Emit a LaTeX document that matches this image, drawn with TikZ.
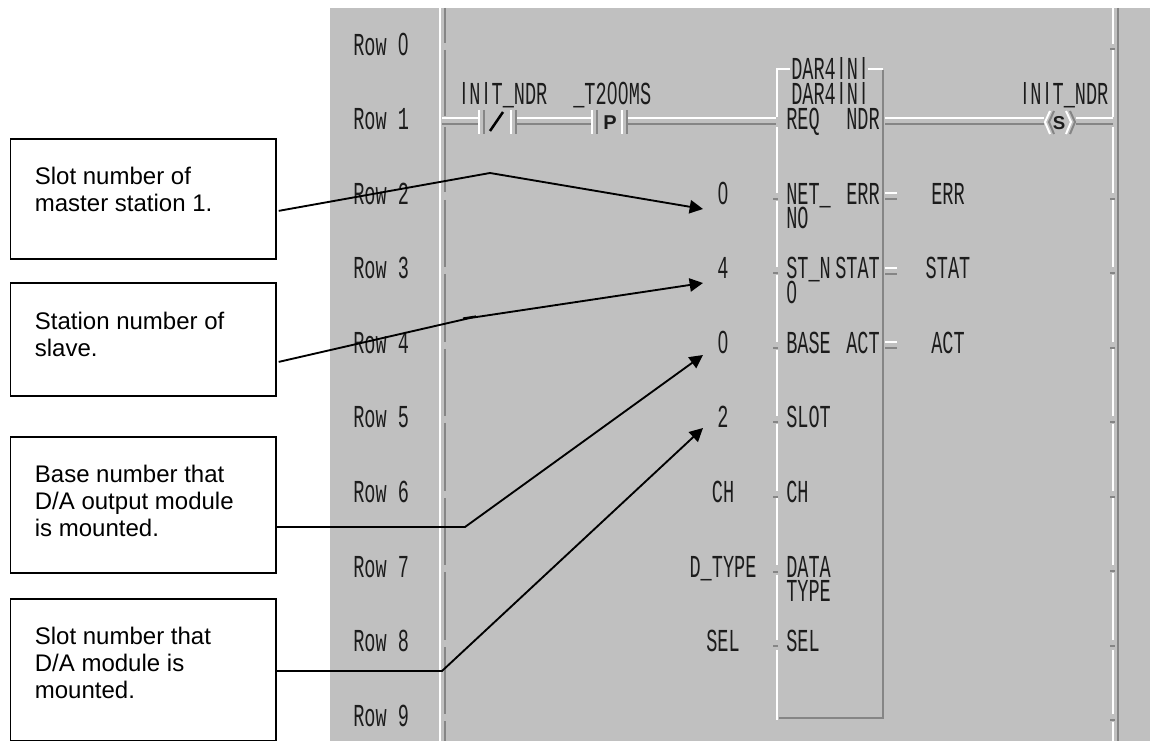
\documentclass[tikz,border=0pt]{standalone}
\usepackage{graphicx}
\usepackage{fontspec}
\setmainfont{Liberation Sans}
\newfontfamily\ldmono{Liberation Mono}
\newfontfamily\ldsans{Liberation Sans}
\usetikzlibrary{arrows.meta,calc}
\definecolor{panelgray}{HTML}{C0C0C0}
\definecolor{edgegray}{HTML}{858585}
\definecolor{inkdark}{HTML}{1C1C1C}
\newcommand\ldt[1]{\scalebox{.58}[1]{\fontsize{24}{24}\selectfont\ldmono\color{inkdark}#1}}
\newcommand\ldz{\makebox[.6em][c]{\ldsans 0}}
\newcommand\ldi{\makebox[.6em][c]{\ldsans I}}
\newcommand\boxtxt[3]{\parbox[c][#1pt][t]{199.1pt}{\vspace*{#2pt}\fontsize{18}{20.25}\selectfont\raggedright\leftskip=18.4pt #3\par}}
\tikzset{
  x=.75pt,y=-.75pt,
  callout/.style={draw=black,line width=1.3pt,fill=white,inner sep=0pt,anchor=north west},
  ldl/.style={inner sep=0pt,anchor=base west},
  ldc/.style={inner sep=0pt,anchor=base},
  lead/.style={draw=black,line width=1.4pt,line join=miter},
  leadarrow/.style={lead,-{Triangle[length=10pt,width=10pt]}},
  lite/.style={draw=white,line width=2.1pt},
  dark/.style={draw=edgegray,line width=2pt},
  thinlite/.style={draw=white,line width=1.5pt},
  thindark/.style={draw=edgegray,line width=1.5pt},
}
\begin{document}
\begin{tikzpicture}
\useasboundingbox (0,0) rectangle (1150,741);
\fill[white] (0,0) rectangle (1150,741);
\fill[panelgray] (330,8) rectangle (1150,741);

% left rail
\draw[lite] (440,8) -- (440,741);
\draw[thindark,line width=1.5pt] (445,8) -- (445,43);
\foreach \a/\b in {50/116,127/192,200/267,274/342,349/416,423/491,498/565,572/640,647/714,721/741}{
  \draw[thindark] (445,\a) -- (445,\b);
}

% right rail
\draw[dark] (1118,8) -- (1118,741);
\foreach \a/\b in {8/44,50/117,127/193,200/267,275/342,349/416,424/491,498/565,573/640,650/714,722/741}{
  \draw[lite] (1113,\a) -- (1113,\b);
}
\foreach \y in {49,199,273,348,422,497,571,646,720}{
  \draw[thindark] (1110,\y) -- (1115,\y);
}

% rung 1
\foreach \a/\b in {442/478,516/592,628/776,885/1044,1076/1113}{
  \draw[thinlite] (\a,118) -- (\b,118);
  \draw[thindark] (\a,124.5) -- (\b,124.5);
}
% contacts
\draw[lite] (479,110) -- (479,134);
\draw[thindark] (484,110) -- (484,134);
\draw[black,line width=1.9pt] (490,131) -- (503,112);
\draw[lite] (511,110) -- (511,134);
\draw[thindark] (516,110) -- (516,134);
\draw[lite] (592,110) -- (592,134);
\draw[thindark] (597,110) -- (597,134);
\draw[lite] (622,110) -- (622,134);
\draw[thindark] (627,110) -- (627,134);
\node[ldc] (pcontact) at (610,130) {\fontsize{15}{15}\selectfont\bfseries\color{inkdark}P};
% coil
\draw[thinlite] (1050,111) -- (1045,122) -- (1050,134);
\draw[thindark] (1054,111) -- (1049,122) -- (1054,134);
\draw[thinlite] (1066,111) -- (1071,122) -- (1066,134);
\draw[thindark] (1070,111) -- (1075,122) -- (1070,134);
\node[ldc] (scoil) at (1059,130) {\fontsize{14}{14}\selectfont\bfseries\color{inkdark}S};

% function block outline
\draw[lite] (790,69) -- (777,69) -- (777,117);
\draw[lite] (868,69) -- (883,69);
\foreach \a/\b in {127/193,201/267,275/342,350/416,424/491,498/565,575/640,650/720}{
  \draw[lite] (777,\a) -- (777,\b);
}
\foreach \y in {199,273,348,422,497,572,646}{
  \draw[thindark] (773,\y) -- (778,\y);
}
\draw[dark] (883,70) -- (883,719);
\draw[dark] (779,718) -- (884,718);
\foreach \y in {193,268,342}{
  \draw[thinlite] (885,\y) -- (897,\y);
  \draw[thindark] (885,\y+6.5) -- (897,\y+6.5);
}

% row labels
\node[ldl] (row0) at (353,55.5) {\ldt{Row \ldz}};
\foreach \i/\y in {1/130,2/204.5,3/279,4/353.5,5/428,6/502.5,7/577,8/651.5,9/726}{
  \node[ldl] (row\i) at (353,\y) {\ldt{Row \i}};
}

% ladder texts
\node[ldl] (c1) at (458,105) {\ldt{\ldi N\ldi T\_NDR}};
\node[ldl] (c2) at (573,105) {\ldt{\_T2\ldz\ldz MS}};
\node[ldl] (coil) at (1019,105) {\ldt{\ldi N\ldi T\_NDR}};
\node[ldl] (fb1) at (791,80) {\ldt{DAR4\ldi N\ldi}};
\node[ldl] (fb2) at (791,105) {\ldt{DAR4\ldi N\ldi}};
\node[ldl] (req) at (786,130) {\ldt{REQ}};
\node[ldl] (ndr) at (846,130) {\ldt{NDR}};
\node[ldl] (net) at (786,204.5) {\ldt{NET\_}};
\node[ldl] (no) at (786,229) {\ldt{NO}};
\node[ldl] (err) at (846,204.5) {\ldt{ERR}};
\node[ldl] (stn) at (786,279) {\ldt{ST\_N}};
\node[ldl] (sto) at (786,304) {\ldt{\ldz}};
\node[ldl] (stat) at (835,279) {\ldt{STAT}};
\node[ldl] (base) at (786,353.5) {\ldt{BASE}};
\node[ldl] (act) at (846,353.5) {\ldt{ACT}};
\node[ldl] (slot) at (786,428) {\ldt{SLOT}};
\node[ldl] (ch) at (786,502.5) {\ldt{CH}};
\node[ldl] (data) at (786,577) {\ldt{DATA}};
\node[ldl] (type) at (786,601) {\ldt{TYPE}};
\node[ldl] (sel) at (786,651.5) {\ldt{SEL}};
% values
\node[ldc] (v0) at (723,204.5) {\ldt{\ldz}};
\node[ldc] (v1) at (723,279) {\ldt{4}};
\node[ldc] (v2) at (723,353.5) {\ldt{\ldz}};
\node[ldc] (v3) at (723,428) {\ldt{2}};
\node[ldc] (v4) at (723,502.5) {\ldt{CH}};
\node[ldc] (v5) at (723,577) {\ldt{D\_TYPE}};
\node[ldc] (v6) at (723,651.5) {\ldt{SEL}};
\node[ldc] (o0) at (948,204.5) {\ldt{ERR}};
\node[ldc] (o1) at (948,279) {\ldt{STAT}};
\node[ldc] (o2) at (948,353.5) {\ldt{ACT}};

% callout boxes
\node[callout] (b1) at (9.5,138) {\boxtxt{90}{21.4}{Slot number of\\master station 1.}};
\node[callout] (b2) at (9.5,282) {\boxtxt{84.75}{22.1}{Station number of\\slave.}};
\node[callout] (b3) at (9.5,436) {\boxtxt{102}{21.4}{Base number that\\D/A output module\\is mounted.}};
\node[callout] (b4) at (9.5,598) {\boxtxt{106.5}{21.4}{Slot number that\\D/A module is\\mounted.}};

% connectors
\coordinate (k1) at (490,173);
\coordinate (k2) at (470,318);
\coordinate (k3) at (465,527);
\coordinate (k4) at (442,671);
\coordinate (t1) at (703,209);
\coordinate (t2) at (703,283);
\coordinate (t3) at (703,355);
\coordinate (t4) at (703,428);
\draw[leadarrow] ([xshift=1.5pt,yshift=-9pt]b1.east) -- (k1) -- (t1);
\draw[leadarrow] ([xshift=1.5pt,yshift=-16.9pt]b2.east) -- (k2) -- (t2);
\draw[lead,line width=1.6pt] ($(k2)+(-7,0.5)$) -- ($(k2)+(6,-1.5)$);
\draw[leadarrow] (b3.east |- k3) -- (k3) -- (t3);
\draw[leadarrow] (b4.east |- k4) -- (k4) -- (t4);
\end{tikzpicture}
\end{document}
